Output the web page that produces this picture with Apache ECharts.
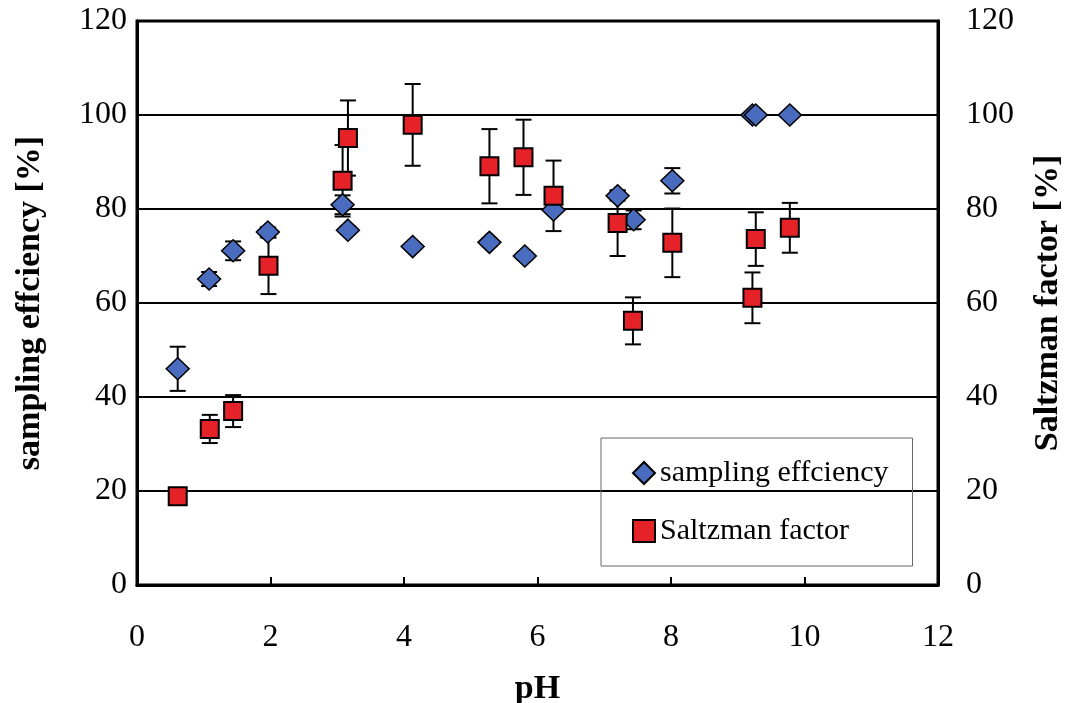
<!DOCTYPE html>
<html>
<head>
<meta charset="utf-8">
<script src="https://cdn.jsdelivr.net/npm/echarts@6/dist/echarts.min.js"></script>
<style>
  html, body { margin: 0; padding: 0; background: #fff; }
  #chart { width: 1067px; height: 703px; }
</style>
</head>
<body>
<div id="chart"></div>
<script>
// sampling efficiency (diamonds)
var sePh  = [0.61, 1.08, 1.44, 1.96, 3.08, 3.16, 4.13, 5.28, 5.81, 6.24, 7.20, 7.44, 8.02, 9.22, 9.27, 9.78]
var seVal = [46.0, 65.1, 71.1, 75.1, 80.9, 75.5, 72.0, 72.9, 70.0, 79.8, 82.8, 77.7, 86.0, 100, 100, 100]
var seErr = [4.7, 1.5, 2.0, 1.0, 2.0, 0.8, 0, 0.8, 0.8, 0, 1.0, 2.0, 2.7, 0, 0, 0]

// Saltzman factor (squares)
var sfPh  = [0.61, 1.09, 1.44, 1.97, 3.08, 3.16, 4.13, 5.28, 5.79, 6.24, 7.20, 7.43, 8.02, 9.22, 9.27, 9.78]
var sfVal = [18.9, 33.2, 37.0, 67.9, 86.0, 95.1, 97.9, 89.1, 91.0, 82.8, 77.0, 56.2, 72.8, 61.1, 73.6, 76.0]
var sfErr = [0, 3.0, 3.4, 6.0, 7.6, 8.0, 8.7, 7.9, 8.0, 7.5, 7.0, 5.0, 7.3, 5.4, 5.7, 5.3]

var xTicks = [0, 2, 4, 6, 8, 10, 12]

var serif = '"Liberation Serif", "DejaVu Serif", serif'

function pairs(xs, ys) {
  return xs.map(function (x, i) { return [x, ys[i]] })
}
function errData(xs, ys, es) {
  var out = []
  xs.forEach(function (x, i) {
    if (es[i] > 0) out.push([x, ys[i] - es[i], ys[i] + es[i]])
  })
  return out
}
function errBar(params, api) {
  var lo = api.coord([api.value(0), api.value(1)])
  var hi = api.coord([api.value(0), api.value(2)])
  var w = 8
  var st = { stroke: '#000', lineWidth: 2 }
  return {
    type: 'group',
    children: [
      { type: 'line', shape: { x1: lo[0], y1: lo[1], x2: hi[0], y2: hi[1] }, style: st },
      { type: 'line', shape: { x1: lo[0] - w, y1: lo[1], x2: lo[0] + w, y2: lo[1] }, style: st },
      { type: 'line', shape: { x1: hi[0] - w, y1: hi[1], x2: hi[0] + w, y2: hi[1] }, style: st }
    ]
  }
}

var chart = echarts.init(document.getElementById('chart'))
var labelStyle = { color: '#000', fontFamily: serif, fontSize: 32 }
var titleStyle = { color: '#000', fontFamily: serif, fontSize: 34, fontWeight: 'bold' }

chart.setOption({
  animation: false,
  grid: {
    left: 137, right: 129, top: 21, bottom: 118,
    outerBoundsMode: 'none', containLabel: false,
    show: true, borderColor: '#000', borderWidth: 3, backgroundColor: 'transparent'
  },
  legend: {
    orient: 'vertical',
    left: 601, top: 438,
    padding: [20, 24, 20, 31],
    itemGap: 28,
    itemWidth: 22, itemHeight: 22,
    borderColor: '#666', borderWidth: 1,
    textStyle: { color: '#000', fontFamily: serif, fontSize: 30 },
    data: ['sampling effciency', 'Saltzman factor']
  },
  xAxis: {
    type: 'value', min: 0, max: 12, interval: 2,
    name: 'pH', nameLocation: 'middle', nameGap: 87,
    nameTextStyle: titleStyle,
    axisLine: { show: true, lineStyle: { color: '#000', width: 3 } },
    axisTick: { show: true, inside: true, length: 8, lineStyle: { color: '#000', width: 2 } },
    axisLabel: Object.assign({ margin: 37, formatter: function (v) { return xTicks.indexOf(v) >= 0 ? v : '' } }, labelStyle),
    splitLine: { show: false }
  },
  yAxis: [
    {
      type: 'value', min: 0, max: 120, interval: 20,
      name: 'sampling effciency [%]', nameLocation: 'middle', nameGap: 90,
      nameTextStyle: titleStyle,
      axisLine: { show: true, lineStyle: { color: '#000', width: 3 } },
      axisTick: { show: false },
      axisLabel: Object.assign({ margin: 10 }, labelStyle),
      splitLine: { show: true, lineStyle: { color: '#000', width: 2 } }
    },
    {
      type: 'value', min: 0, max: 120, interval: 20, position: 'right',
      name: 'Saltzman factor [%]', nameLocation: 'middle', nameGap: 93,
      nameRotate: 90,
      nameTextStyle: titleStyle,
      axisLine: { show: true, lineStyle: { color: '#000', width: 3 } },
      axisTick: { show: false },
      axisLabel: Object.assign({ margin: 28 }, labelStyle),
      splitLine: { show: false }
    }
  ],
  series: [
    {
      type: 'custom', name: 'seErr', renderItem: errBar, z: 2,
      data: errData(sePh, seVal, seErr), silent: true
    },
    {
      type: 'custom', name: 'sfErr', renderItem: errBar, z: 2,
      data: errData(sfPh, sfVal, sfErr), silent: true
    },
    {
      name: 'sampling effciency', type: 'scatter', z: 3,
      symbol: 'diamond', symbolSize: [23, 22],
      itemStyle: { color: '#4a6cbf', borderColor: '#000', borderWidth: 1.5, opacity: 1 },
      data: pairs(sePh, seVal)
    },
    {
      name: 'Saltzman factor', type: 'scatter', z: 4,
      symbol: 'rect', symbolSize: 18,
      itemStyle: { color: '#e52228', borderColor: '#000', borderWidth: 2, opacity: 1 },
      data: pairs(sfPh, sfVal)
    }
  ]
})
</script>
</body>
</html>
